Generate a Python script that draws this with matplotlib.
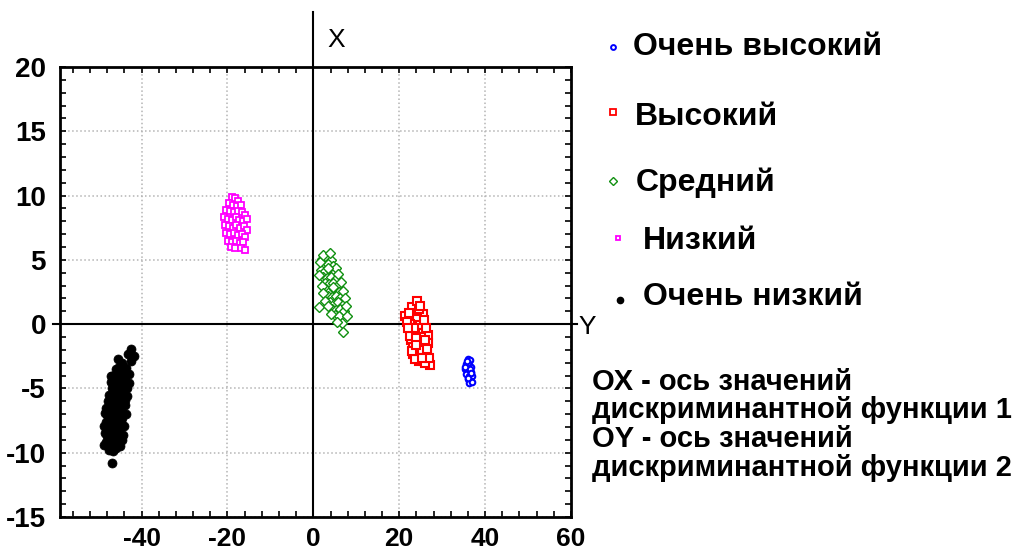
import matplotlib
matplotlib.use("Agg")
import matplotlib.pyplot as plt
from matplotlib.lines import Line2D
from matplotlib.ticker import MultipleLocator

plt.rcParams['font.family'] = ['Liberation Sans', 'DejaVu Sans']
plt.rcParams['axes.unicode_minus'] = False

# discriminant scores, one pair of lists per group
very_high_x = [35.9, 36.5, 35.5, 36.2, 36.8, 35.3, 36.0, 36.7, 35.6, 36.3, 37.0, 35.9, 36.6, 36.3, 36.9, 36.1, 36.4,
               35.4, 36.8, 36.0, 35.7]
very_high_y = [-2.7, -2.8, -3.1, -3.2, -3.3, -3.5, -3.6, -3.7, -3.9, -4.0, -4.0, -4.3, -4.4, -4.6, -4.5, -3.0, -3.5,
               -3.3, -3.8, -4.2, -2.9]

high_x = [21.4, 23.3, 25.5, 24.1, 22.6, 24.9, 22.9, 24.1, 25.5, 26.8, 22.8, 24.7, 26.8, 23.3, 25.8,
          23.3, 24.7, 26.4, 24.7, 27.2, 25.7, 23.0, 24.5, 21.8, 23.5, 25.8, 22.5, 25.0, 23.8, 26.0,
          24.0, 25.2, 23.6, 26.0, 24.2, 22.0, 23.0, 26.5, 27.0, 25.3, 22.3, 24.8, 26.3, 23.8]
high_y = [0.6, 1.0, 0.8, 0.4, 0.05, -0.1, -0.6, -0.7, -0.7, -0.85, -1.25, -1.4, -1.5, -1.75, -1.9,
          -2.3, -2.15, -2.4, -2.9, -3.2, -2.9, 1.3, 1.2, 0.2, -0.3, 0.3, -0.9, -1.0, -1.1, -1.2,
          -1.9, -2.0, -2.7, -3.0, 1.8, -0.3, -2.1, -1.9, -2.6, -2.6, 0.9, 1.4, -0.3, -1.6]

mid_x = [2.0, 3.0, 4.0, 2.5, 3.5, 4.5, 1.8, 2.8, 3.8, 4.8, 2.2, 3.2, 4.2, 5.2, 2.6, 3.6, 4.6, 5.6,
         2.9, 3.9, 4.9, 5.9, 3.3, 4.3, 5.3, 6.3, 3.8, 4.8, 5.8, 6.8, 4.3, 5.3, 6.3, 7.2, 1.2, 5.0,
         6.0, 6.6, 7.0, 1.5, 5.3, 1.4, 5.8, 1.9, 6.4, 2.3, 6.8, 2.8, 7.4, 3.4, 7.6, 4.0, 7.8, 5.5,
         4.5, 3.4, 2.3, 3.8]
mid_y = [5.1, 5.2, 5.0, 4.6, 4.7, 4.5, 4.2, 4.1, 4.2, 4.0, 3.7, 3.6, 3.7, 3.5, 3.2, 3.1, 3.2, 3.0,
         2.7, 2.6, 2.7, 2.5, 2.2, 2.1, 2.2, 2.0, 1.7, 1.6, 1.7, 1.5, 1.2, 1.1, 1.2, 1.0, 1.3, 0.7,
         0.6, 0.1, -0.6, 4.8, 4.4, 3.8, 3.9, 3.0, 3.3, 2.4, 2.6, 1.8, 2.0, 1.4, 1.4, 0.8, 0.6, 0.2,
         2.9, 4.4, 5.4, 5.5]

low_x = [-19.0, -18.2, -17.5, -19.6, -18.7, -17.8, -16.9, -20.3, -19.4, -18.5, -17.6, -16.7, -15.9,
         -20.8, -19.9, -19.0, -18.1, -17.2, -16.3, -15.5, -20.6, -19.7, -18.8, -17.9, -17.0, -16.1,
         -15.4, -20.3, -19.4, -18.5, -17.6, -16.7, -15.9, -19.8, -18.9, -18.0, -17.1, -16.3, -19.2,
         -18.3, -16.9, -15.9]
low_y = [9.9, 9.8, 9.6, 9.4, 9.3, 9.2, 9.3, 8.9, 8.8, 8.7, 8.8, 8.7, 8.5, 8.3, 8.2, 8.1, 8.3, 8.1,
         8.0, 8.2, 7.7, 7.6, 7.5, 7.7, 7.5, 7.6, 7.3, 7.1, 7.0, 7.1, 6.9, 7.0, 6.8, 6.5, 6.4, 6.5,
         6.3, 6.4, 6.0, 5.9, 5.9, 5.8]

very_low_x = [-42.5, -41.7, -43.2, -42.4, -45.5, -44.6,
              -46.0, -45.2, -44.4, -43.6, -43.0, -46.8, -45.8, -44.9, -44.1,
              -47.2, -46.4, -45.5, -44.7, -43.8, -47.0, -46.1, -45.2, -44.3, -43.5,
              -47.6, -46.7, -45.8, -44.9, -44.1, -47.9, -47.0, -46.1, -45.2, -44.4,
              -48.3, -47.4, -46.5, -45.6, -44.7, -48.1, -47.2, -46.3, -45.4, -44.5,
              -48.4, -47.5, -46.6, -45.7, -44.8, -48.2, -47.3, -46.4, -45.5, -44.7,
              -48.0, -47.1, -46.2, -45.3, -48.3, -47.4, -46.5, -45.4,
              -47.5, -46.6, -46.0, -47.0,
              -48.6, -48.7, -43.8, -43.9, -43.7, -44.0, -44.3, -44.6, -45.0, -48.5, -48.8,
              -47.2, -42.9, -43.3]
very_low_y = [-1.9, -2.5, -2.3, -2.9, -2.7, -3.0,
              -3.5, -3.3, -3.6, -3.4, -3.9, -4.0, -4.1, -4.0, -4.2,
              -4.5, -4.6, -4.5, -4.7, -4.5, -5.0, -5.1, -5.0, -5.2, -5.0,
              -5.5, -5.6, -5.4, -5.6, -5.7, -6.0, -6.1, -6.0, -6.2, -6.0,
              -6.5, -6.6, -6.5, -6.7, -6.6, -7.1, -7.0, -7.2, -7.1, -7.3,
              -7.6, -7.7, -7.6, -7.8, -7.6, -8.1, -8.2, -8.1, -8.3, -8.0,
              -8.7, -8.6, -8.8, -8.7, -9.2, -9.3, -9.2, -9.4,
              -9.8, -9.9, -9.6, -10.8,
              -6.9, -7.9, -6.3, -5.9, -7.0, -7.9, -8.6, -9.0, -9.5, -8.5, -9.4,
              -4.0, -4.6, -5.6]

labels = ["Очень высокий", "Высокий", "Средний", "Низкий", "Очень низкий"]
notes = ["ОХ - ось значений", "дискриминантной функции 1",
         "ОY - ось значений", "дискриминантной функции 2"]

W, H = 1018, 554
fig = plt.figure(figsize=(W / 100, H / 100), dpi=100)
ax = fig.add_axes([60 / W, 1 - 517 / H, 511 / W, 450 / H])

styles = [
    dict(marker='o', ms=4, mfc='white', mec='#0000ff', mew=1.5),
    dict(marker='s', ms=6, mfc='white', mec='#ff0000', mew=1.5),
    dict(marker='D', ms=5, mfc='white', mec='#109010', mew=1.0),
    dict(marker='s', ms=4, mfc='white', mec='#ff00ff', mew=1.3),
    dict(marker='o', ms=6.5, mfc='black', mec='black', mew=0.5),
]
series = [(very_high_x, very_high_y), (high_x, high_y), (mid_x, mid_y),
          (low_x, low_y), (very_low_x, very_low_y)]

# zero axes, running a little past the frame
ax.plot([0, 0], [-15, 24.3], color='black', lw=1.5, clip_on=False, zorder=2.5)
ax.plot([-60.7, 61.4], [0, 0], color='black', lw=1.5, clip_on=False, zorder=2.5)

for (xs, ys), st in zip(series, styles):
    ax.plot(xs, ys, ls='none', zorder=3, **st)

ax.set_xlim(-59, 60)
ax.set_ylim(-15, 20)
ax.set_xticks([-40, -20, 0, 20, 40, 60])
ax.set_yticks([-15, -10, -5, 0, 5, 10, 15, 20])
ax.xaxis.set_minor_locator(MultipleLocator(4))
ax.yaxis.set_minor_locator(MultipleLocator(1))
ax.tick_params(which='both', direction='in', top=True, right=True, length=4, width=1.2)
ax.tick_params(axis='y', which='major', labelsize=20, pad=10)
ax.tick_params(axis='x', which='major', labelsize=19, pad=7)
for lab in ax.get_xticklabels() + ax.get_yticklabels():
    lab.set_fontweight('bold')
ax.grid(True, which='major', color='#b4b4b4', ls=':', lw=1.1)
for sp in ax.spines.values():
    sp.set_linewidth(2)

ax.text(3.3, 22.1, "X", fontsize=19, va='center', ha='left')
ax.text(61.8, -0.2, "Y", fontsize=19, va='center', ha='left', clip_on=False)

# legend placed by hand
mark_pos = [(613, 47), (613, 112), (613, 181), (618, 238), (620, 300)]
text_pos = [(633, 47), (635, 117), (636, 183), (643, 241), (643, 297)]
leg_styles = [
    dict(marker='o', ms=3.5, mfc='white', mec='#0000ff', mew=1.4),
    dict(marker='s', ms=4, mfc='white', mec='#ff0000', mew=1.3),
    dict(marker='D', ms=4, mfc='white', mec='#109010', mew=1.0),
    dict(marker='s', ms=3, mfc='white', mec='#ff00ff', mew=1.3),
    dict(marker='o', ms=4.5, mfc='black', mec='black'),
]
for lab, (mx, my), (tx, ty), st in zip(labels, mark_pos, text_pos, leg_styles):
    fig.add_artist(Line2D([mx / W], [1 - my / H], transform=fig.transFigure, ls='none', **st))
    fig.text(tx / W, 1 - ty / H, lab, fontsize=23, fontweight='bold', va='center', ha='left')

for i, line in enumerate(notes):
    fig.text(592 / W, 1 - (382 + 28.5 * i) / H, line, fontsize=21, fontweight='bold',
             va='center', ha='left')

fig.savefig("out.png", dpi=100)
